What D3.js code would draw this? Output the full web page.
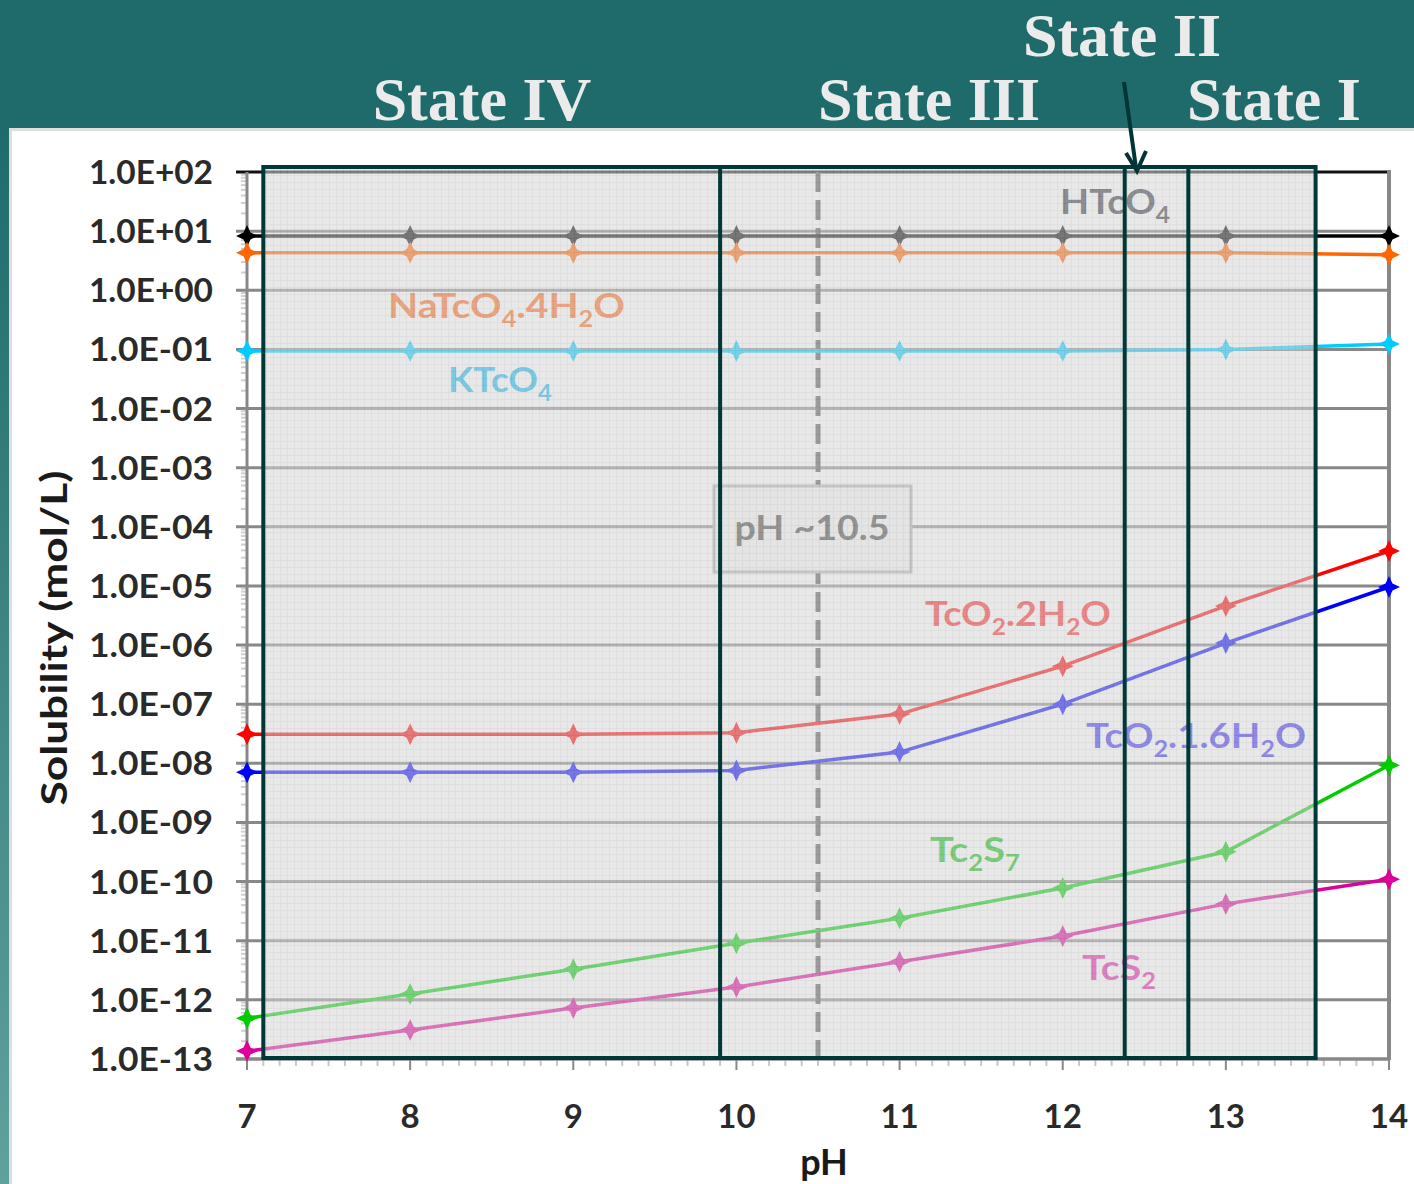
<!DOCTYPE html>
<html>
<head>
<meta charset="utf-8">
<script src="https://cdn.jsdelivr.net/npm/d3@7"></script>
<style>
  html, body { margin: 0; padding: 0; background: #fff; }
  svg { display: block; }
</style>
</head>
<body>
<div id="chart"></div>
<script>
// solubility vs pH
const pH = [7, 8, 9, 10, 11, 12, 13, 14];
const HTcO4 = [8.3, 8.3, 8.3, 8.3, 8.3, 8.3, 8.3, 8.3];
const NaTcO4 = [4.3, 4.3, 4.3, 4.3, 4.3, 4.3, 4.3, 4.0];
const KTcO4 = [0.094, 0.094, 0.094, 0.094, 0.094, 0.094, 0.1, 0.123];
const TcO2_2H2O = [3.1e-8, 3.1e-8, 3.1e-8, 3.3e-8, 6.8e-8, 4.4e-7, 4.6e-6, 3.9e-5];
const TcO2_16H2O = [7.1e-9, 7.1e-9, 7.1e-9, 7.6e-9, 1.55e-8, 1.0e-7, 1.08e-6, 9.6e-6];
const Tc2S7 = [4.9e-13, 1.26e-12, 3.3e-12, 9.1e-12, 2.4e-11, 7.8e-11, 3.2e-10, 9.3e-9];
const TcS2 = [1.36e-13, 3.1e-13, 7.3e-13, 1.65e-12, 4.4e-12, 1.2e-11, 4.2e-11, 1.1e-10];

const seriesNames = ['HTcO4', 'NaTcO4.4H2O', 'KTcO4', 'TcO2.2H2O', 'TcO2.1.6H2O', 'Tc2S7', 'TcS2'];
const seriesValues = [HTcO4, NaTcO4, KTcO4, TcO2_2H2O, TcO2_16H2O, Tc2S7, TcS2];
const seriesColors = ['#000000', '#ff6600', '#00ccff', '#ff0000', '#0000ff', '#00cc00', '#dd0099'];

const yExponents = d3.range(2, -14, -1);   // 1.0E+02 ... 1.0E-13
const xTicks = [7, 8, 9, 10, 11, 12, 13, 14];

// state boundaries (pH) of the overlay boxes
const stateBounds = [7.1, 9.9, 12.38, 12.77, 13.55];
const stateLabels = [
  {text: 'State IV', x: 482, y: 120},
  {text: 'State III', x: 929, y: 120},
  {text: 'State II', x: 1122, y: 56},
  {text: 'State I', x: 1274, y: 120}
];

const W = 1414, H = 1184;
const svg = d3.select('#chart').append('svg')
  .attr('width', W).attr('height', H);

const defs = svg.append('defs');
let grad = defs.append('linearGradient').attr('id', 'side')
  .attr('x1', 0).attr('y1', 0).attr('x2', 0).attr('y2', 1);
grad.append('stop').attr('offset', '0%').attr('stop-color', '#1f6b6b');
grad.append('stop').attr('offset', '100%').attr('stop-color', '#5fa19d');

let pat = defs.append('pattern').attr('id', 'mesh')
  .attr('width', 7).attr('height', 7).attr('patternUnits', 'userSpaceOnUse');
pat.append('rect').attr('width', 7).attr('height', 7).attr('fill', '#d6d6d6');
pat.append('path').attr('d', 'M0,0.5H7M0.5,0V7').attr('stroke', '#c4c4c4').attr('stroke-width', 1);

// slide background
svg.append('rect').attr('width', W).attr('height', H).attr('fill', '#1f6b6b');
svg.append('rect').attr('x', 0).attr('y', 128).attr('width', 10).attr('height', H - 128).attr('fill', 'url(#side)');
svg.append('rect').attr('x', 9).attr('y', 128).attr('width', W - 9).attr('height', H - 128).attr('fill', '#dedede');
svg.append('rect').attr('x', 12).attr('y', 131).attr('width', W - 12).attr('height', H - 131).attr('fill', '#ffffff');

const x = d3.scaleLinear().domain([7, 14]).range([247, 1389]);
const y = d3.scaleLog().domain([1e-13, 1e2]).range([1059, 172]);

const fontChart = 'Lato, "Open Sans", sans-serif';
const g = svg.append('g');

// minor y ticks
let minor = [];
yExponents.slice(1).forEach(e => {
  for (let k = 2; k <= 9; k++) minor.push(k * Math.pow(10, e));
});
g.selectAll('.ymin').data(minor).enter().append('line')
  .attr('x1', 241).attr('x2', 247)
  .attr('y1', d => y(d)).attr('y2', d => y(d))
  .attr('stroke', '#cfcfcf').attr('stroke-width', 2);

// x minor ticks
g.selectAll('.xmin').data(d3.range(70, 141).map(d => d / 10)).enter().append('line')
  .attr('x1', d => x(d)).attr('x2', d => x(d))
  .attr('y1', 1059).attr('y2', d => Number.isInteger(d) ? 1070 : 1066)
  .attr('stroke', d => Number.isInteger(d) ? '#888' : '#c8c8c8').attr('stroke-width', 2);

// major gridlines
g.selectAll('.grid').data(yExponents).enter().append('line')
  .attr('x1', 236).attr('x2', 1389)
  .attr('y1', d => y(Math.pow(10, d))).attr('y2', d => y(Math.pow(10, d)))
  .attr('stroke', (d, i) => i === 0 ? '#111' : '#888').attr('stroke-width', 3);

// axes frame
g.append('line').attr('x1', 247).attr('x2', 247).attr('y1', 172).attr('y2', 1060)
  .attr('stroke', '#888').attr('stroke-width', 3);
g.append('line').attr('x1', 1389).attr('x2', 1389).attr('y1', 170).attr('y2', 1060)
  .attr('stroke', '#888').attr('stroke-width', 4);
g.append('line').attr('x1', 236).attr('x2', 1390).attr('y1', 1059).attr('y2', 1059)
  .attr('stroke', '#888').attr('stroke-width', 3);

// dashed pH 10.5 marker
g.append('line').attr('x1', x(10.5)).attr('x2', x(10.5)).attr('y1', 172).attr('y2', 1059)
  .attr('stroke', '#555').attr('stroke-width', 5).attr('stroke-dasharray', '20,8');

// pH ~10.5 box
g.append('rect').attr('x', 714).attr('y', 486).attr('width', 197).attr('height', 86)
  .attr('fill', '#f4f4f4').attr('stroke', '#b0b0b0').attr('stroke-width', 3);
g.append('text').attr('x', 812).attr('y', 540).attr('text-anchor', 'middle')
  .attr('font-family', fontChart).attr('font-weight', 'bold').attr('font-size', 34).attr('fill', '#444')
  .attr('textLength', 155).attr('lengthAdjust', 'spacingAndGlyphs')
  .text('pH ~10.5');

// series
const star = 'M0,-11L3.5,-3.5L11,0L3.5,3.5L0,11L-3.5,3.5L-11,0L-3.5,-3.5Z';
const line = d3.line().x(d => x(d[0])).y(d => y(d[1]));
seriesValues.forEach((vals, i) => {
  const pts = pH.map((p, j) => [p, vals[j]]);
  g.append('path').datum(pts).attr('d', line)
    .attr('fill', 'none').attr('stroke', seriesColors[i]).attr('stroke-width', 3.5);
  g.selectAll('.m' + i).data(pts).enter().append('path')
    .attr('d', star)
    .attr('transform', d => `translate(${x(d[0])},${y(d[1])})`)
    .attr('fill', seriesColors[i]);
});

// series labels (chemical formulas with subscripts)
const labels = [
  {parts: [['HTcO', 0], ['4', 1]], x: 1060, y: 214, w: 110, color: '#333344'},
  {parts: [['NaTcO', 0], ['4', 1], ['.4H', 0], ['2', 1], ['O', 0]], x: 388, y: 318, w: 237, color: '#ff6a1a'},
  {parts: [['KTcO', 0], ['4', 1]], x: 448, y: 392, w: 104, color: '#11b8ee'},
  {parts: [['TcO', 0], ['2', 1], ['.2H', 0], ['2', 1], ['O', 0]], x: 925, y: 626, w: 186, color: '#ff2a2a'},
  {parts: [['TcO', 0], ['2', 1], ['.1.6H', 0], ['2', 1], ['O', 0]], x: 1086, y: 748, w: 220, color: '#3a2ef0'},
  {parts: [['Tc', 0], ['2', 1], ['S', 0], ['7', 1]], x: 930, y: 862, w: 90, color: '#11c011'},
  {parts: [['TcS', 0], ['2', 1]], x: 1082, y: 980, w: 74, color: '#e21aa8'}
];
labels.forEach(l => {
  const t = g.append('text').attr('x', l.x).attr('y', l.y)
    .attr('font-family', fontChart).attr('font-weight', 'bold').attr('font-size', 34).attr('fill', l.color);
  let shift = 0;
  l.parts.forEach(p => {
    const want = p[1] ? 9 : 0;
    t.append('tspan').text(p[0])
      .attr('font-size', p[1] ? 22 : 34)
      .attr('dy', want - shift);
    shift = want;
  });
  const len = t.node().getComputedTextLength();
  t.attr('transform', `translate(${l.x},0) scale(${l.w / len},1) translate(${-l.x},0)`);
});

// translucent state overlay
const ov = svg.append('g');
ov.append('rect').attr('x', x(stateBounds[0])).attr('y', 167)
  .attr('width', x(stateBounds[4]) - x(stateBounds[0])).attr('height', 1058 - 167)
  .attr('fill', 'url(#mesh)').attr('opacity', 0.55);
ov.append('rect').attr('x', x(stateBounds[0])).attr('y', 167)
  .attr('width', x(stateBounds[4]) - x(stateBounds[0])).attr('height', 1058 - 167)
  .attr('fill', 'none').attr('stroke', '#003838').attr('stroke-width', 4);
ov.selectAll('.sb').data(stateBounds.slice(1, 4)).enter().append('line')
  .attr('x1', d => x(d)).attr('x2', d => x(d)).attr('y1', 167).attr('y2', 1058)
  .attr('stroke', '#003838').attr('stroke-width', 4);

// y tick labels
const fmt = e => '1.0E' + (e >= 0 ? '+' : '-') + String(Math.abs(e)).padStart(2, '0');
svg.selectAll('.yl').data(yExponents).enter().append('text')
  .attr('x', 213).attr('y', d => y(Math.pow(10, d)) + 12)
  .attr('text-anchor', 'end')
  .attr('font-family', fontChart).attr('font-weight', 'bold').attr('font-size', 32).attr('fill', '#2a2a2a')
  .attr('textLength', 124).attr('lengthAdjust', 'spacingAndGlyphs')
  .text(fmt);

// x tick labels
svg.selectAll('.xl').data(xTicks).enter().append('text')
  .attr('x', d => x(d)).attr('y', 1128).attr('text-anchor', 'middle')
  .attr('font-family', fontChart).attr('font-weight', 'bold').attr('font-size', 33).attr('fill', '#2a2a2a')
  .text(d => d);

// axis titles
svg.append('text').attr('transform', 'translate(67,638) rotate(-90)')
  .attr('text-anchor', 'middle').attr('font-family', fontChart).attr('font-weight', 'bold')
  .attr('font-size', 36).attr('fill', '#1a1a1a')
  .attr('textLength', 335).attr('lengthAdjust', 'spacingAndGlyphs')
  .text('Solubility (mol/L)');
svg.append('text').attr('x', 824).attr('y', 1175).attr('text-anchor', 'middle')
  .attr('font-family', fontChart).attr('font-weight', 'bold')
  .attr('font-size', 36).attr('fill', '#1a1a1a').text('pH');

// header state titles
svg.selectAll('.st').data(stateLabels).enter().append('text')
  .attr('x', d => d.x).attr('y', d => d.y).attr('text-anchor', 'middle')
  .attr('font-family', '"Liberation Serif", "Times New Roman", serif')
  .attr('font-weight', 'bold').attr('font-size', 62).attr('fill', '#ebebeb')
  .text(d => d.text);

// arrow to State II
svg.append('path').attr('d', 'M1124,82L1136,168')
  .attr('stroke', '#003535').attr('stroke-width', 4).attr('fill', 'none');
svg.append('path').attr('d', 'M1126,153L1137,171L1146,151')
  .attr('stroke', '#003535').attr('stroke-width', 4).attr('fill', 'none')
  .attr('stroke-linejoin', 'miter');
</script>
</body>
</html>
